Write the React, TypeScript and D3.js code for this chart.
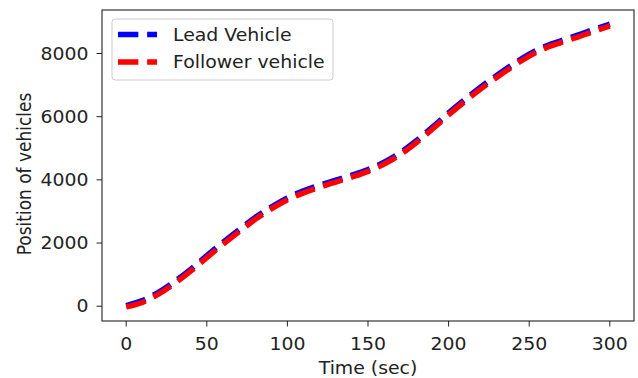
import React from "react";
import * as d3 from "d3";

const times = [0, 10, 20, 30, 40, 50, 60, 70, 80, 90, 100, 110, 120, 130, 140, 150, 160, 170, 180, 190, 200, 210, 220, 230, 240, 250, 260, 270, 280, 290, 300];
const leadPos = [20, 180, 440, 780, 1170, 1600, 2020, 2420, 2810, 3140, 3430, 3650, 3830, 3990, 4150, 4330, 4560, 4860, 5240, 5670, 6120, 6540, 6940, 7310, 7660, 7980, 8230, 8410, 8580, 8760, 8930];
const followerPos = [-20, 120, 380, 720, 1110, 1540, 1960, 2360, 2750, 3080, 3370, 3590, 3770, 3930, 4090, 4270, 4500, 4800, 5180, 5610, 6060, 6480, 6880, 7250, 7600, 7920, 8170, 8350, 8520, 8700, 8870];
const xTicks = [0, 50, 100, 150, 200, 250, 300];
const yTicks = [0, 2000, 4000, 6000, 8000];
const seriesNames = ["Lead Vehicle", "Follower vehicle"];
const seriesColors = ["#0000ff", "#ff0000"];

const W = 638, H = 378;
const left = 102, right = 634, top = 10, bottom = 321;
const FONT = "DejaVu Sans";
const FS = 17;
const SX = 1.11;
const LW = 5.5;
const DASH = `${3.7 * LW} ${1.6 * LW}`;

function T(props: { x: number; y: number; anchor?: string; rotate?: boolean; dy?: string; children: React.ReactNode }) {
  const tr = `translate(${props.x},${props.y}) scale(${SX},1)` + (props.rotate ? " rotate(-90)" : "");
  return (
    <text transform={tr} textAnchor={props.anchor || "start"} dy={props.dy} fontSize={FS} fill="#222">
      {props.children}
    </text>
  );
}

export default function App() {
  const xMin = d3.min(times)!, xMax = d3.max(times)!;
  const xPad = (xMax - xMin) * 0.05;
  const x = d3.scaleLinear().domain([xMin - xPad, xMax + xPad]).range([left, right]);
  const all = leadPos.concat(followerPos);
  const yMin = d3.min(all)!, yMax = d3.max(all)!;
  const yPad = (yMax - yMin) * 0.05;
  const y = d3.scaleLinear().domain([yMin - yPad, yMax + yPad]).range([bottom, top]);

  const line = d3.line<number>().x((_, i) => x(times[i])).y((d) => y(d)).curve(d3.curveMonotoneX);
  const series = [leadPos, followerPos];

  return (
    <svg width={W} height={H} style={{ position: "absolute", left: 0, top: 0 }} fontFamily={FONT}>
      <rect x={0} y={0} width={W} height={H} fill="#fff" />
      {series.map((s, i) => (
        <path key={i} d={line(s) || ""} fill="none" stroke={seriesColors[i]} strokeWidth={LW} strokeDasharray={DASH} />
      ))}
      <rect x={left} y={top} width={right - left} height={bottom - top} fill="none" stroke="#222" strokeWidth={1.1} />
      {xTicks.map((t) => (
        <g key={"x" + t}>
          <line x1={x(t)} x2={x(t)} y1={bottom} y2={bottom + 5.5} stroke="#222" strokeWidth={1} />
          <T x={x(t)} y={bottom + 28.5} anchor="middle">{t}</T>
        </g>
      ))}
      {yTicks.map((t) => (
        <g key={"y" + t}>
          <line x1={left - 5.5} x2={left} y1={y(t)} y2={y(t)} stroke="#222" strokeWidth={1} />
          <T x={left - 13.5} y={y(t)} dy="0.36em" anchor="end">{t}</T>
        </g>
      ))}
      <T x={(left + right) / 2} y={373.5} anchor="middle">Time (sec)</T>
      <T x={31} y={174} anchor="middle" rotate>Position of vehicles</T>
      <rect x={112} y={19} width={221} height={61} rx={3} fill="#fff" fillOpacity={0.8} stroke="#cccccc" strokeWidth={1} />
      {seriesNames.map((n, i) => (
        <g key={n}>
          <line x1={118} x2={157} y1={34.5 + i * 27.5} y2={34.5 + i * 27.5} stroke={seriesColors[i]} strokeWidth={LW} strokeDasharray={DASH} />
          <T x={173} y={34.5 + i * 27.5} dy="0.36em">{n}</T>
        </g>
      ))}
    </svg>
  );
}
